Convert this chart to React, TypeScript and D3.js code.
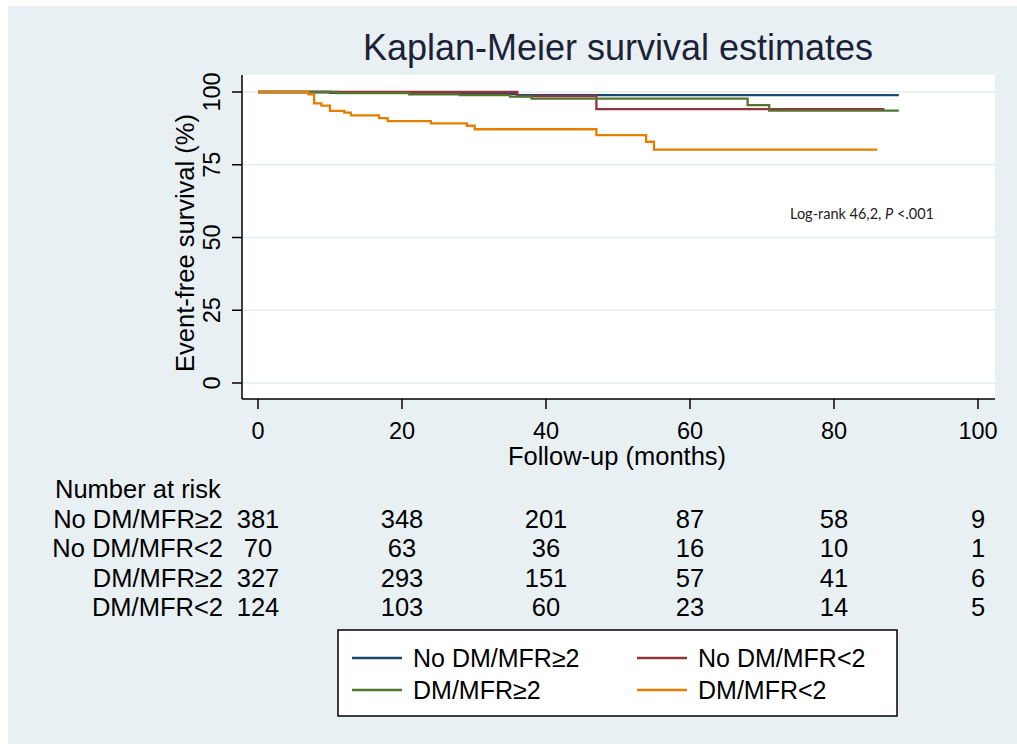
import React from "react";
import * as d3 from "d3";

const seriesNames = ["No DM/MFR≥2", "No DM/MFR<2", "DM/MFR≥2", "DM/MFR<2"];
const seriesColors = ["#1a476f", "#90353b", "#55752f", "#e37e00"];

const blueTimes = [0, 10, 25, 36, 89];
const blueSurv = [100, 99.7, 99.4, 98.9, 98.9];
const redTimes = [0, 36, 47, 87];
const redSurv = [100, 98.6, 94.1, 94.1];
const greenTimes = [0, 11, 21, 28, 35, 38, 68, 71, 89];
const greenSurv = [100, 99.6, 99.2, 98.9, 98.4, 97.7, 95.5, 93.6, 93.6];
const orangeTimes = [0, 7, 7.8, 8.8, 10, 12, 12.9, 16.8, 18, 24, 29, 30.1, 47, 53.9, 55, 86];
const orangeSurv = [100, 99.2, 96.1, 95.3, 93.5, 92.9, 92, 91, 90, 89.2, 88.4, 87.2, 85.2, 82.9, 80.2, 80.2];

const xTicks = [0, 20, 40, 60, 80, 100];
const yTicks = [0, 25, 50, 75, 100];

const riskLabels = ["No DM/MFR≥2", "No DM/MFR<2", "DM/MFR≥2", "DM/MFR<2"];
const riskNoDmHigh = [381, 348, 201, 87, 58, 9];
const riskNoDmLow = [70, 63, 36, 16, 10, 1];
const riskDmHigh = [327, 293, 151, 57, 41, 6];
const riskDmLow = [124, 103, 60, 23, 14, 5];

const FONT = "'Liberation Sans', Arial, sans-serif";

export default function App() {
  const x = d3.scaleLinear().domain([0, 100]).range([258, 978]);
  const y = d3.scaleLinear().domain([0, 100]).range([383, 92]);
  const plotL = 242, plotR = 995, plotT = 75, plotB = 399;

  const series = [
    { t: blueTimes, s: blueSurv },
    { t: redTimes, s: redSurv },
    { t: greenTimes, s: greenSurv },
    { t: orangeTimes, s: orangeSurv },
  ];
  const line = d3
    .line<[number, number]>()
    .x((d) => x(d[0]))
    .y((d) => y(d[1]))
    .curve(d3.curveStepAfter);

  const risks = [riskNoDmHigh, riskNoDmLow, riskDmHigh, riskDmLow];
  const rowY = [519, 548, 578, 607];

  const legendItems = [
    { i: 0, lx: 352, ly: 658 },
    { i: 1, lx: 637, ly: 658 },
    { i: 2, lx: 352, ly: 690 },
    { i: 3, lx: 637, ly: 690 },
  ];

  return (
    <svg
      width={1017}
      height={744}
      style={{ position: "absolute", left: 0, top: 0 }}
      fontFamily={FONT}
    >
      <rect x={0} y={0} width={1017} height={744} fill="#ffffff" />
      <rect x={8} y={6} width={1009} height={738} fill="#e8f0f3" />
      <rect x={plotL} y={plotT} width={plotR - plotL} height={plotB - plotT} fill="#ffffff" />

      {yTicks.map((v) => (
        <line key={"g" + v} x1={plotL} x2={plotR} y1={y(v)} y2={y(v)} stroke="#e3edf1" strokeWidth={1.5} />
      ))}

      {series.map((sr, i) => (
        <path
          key={"s" + i}
          d={line(sr.t.map((t, j) => [t, sr.s[j]] as [number, number])) || ""}
          fill="none"
          stroke={seriesColors[i]}
          strokeWidth={2.3}
        />
      ))}

      <line x1={plotL} x2={plotL} y1={plotT} y2={plotB} stroke="#000" strokeWidth={1.5} />
      <line x1={plotL} x2={plotR} y1={plotB} y2={plotB} stroke="#000" strokeWidth={1.5} />

      {yTicks.map((v) => (
        <g key={"yt" + v}>
          <line x1={plotL - 10} x2={plotL} y1={y(v)} y2={y(v)} stroke="#000" strokeWidth={1.5} />
          <text
            transform={`translate(${220},${y(v)}) rotate(-90)`}
            textAnchor="middle"
            fontSize={23.5}
            fill="#000"
          >
            {v}
          </text>
        </g>
      ))}
      {xTicks.map((v) => (
        <g key={"xt" + v}>
          <line x1={x(v)} x2={x(v)} y1={plotB} y2={plotB + 10} stroke="#000" strokeWidth={1.5} />
          <text x={x(v)} y={439} textAnchor="middle" fontSize={23.5} fill="#000">
            {v}
          </text>
        </g>
      ))}

      <text x={617} y={465} textAnchor="middle" fontSize={25.5} fill="#000">
        Follow-up (months)
      </text>
      <text
        transform={`translate(${194},${243}) rotate(-90)`}
        textAnchor="middle"
        fontSize={25.5}
        fill="#000"
      >
        Event-free survival (%)
      </text>

      <text x={618} y={60} textAnchor="middle" fontSize={36} fill="#1c2238">
        Kaplan-Meier survival estimates
      </text>

      <text x={862} y={219} textAnchor="middle" fontSize={14.5} fontFamily="Lato, 'Open Sans', sans-serif" fill="#222">
        Log-rank 46,2, <tspan fontStyle="italic">P</tspan> &lt;.001
      </text>

      <text x={55} y={498} fontSize={25.5} fill="#000">
        Number at risk
      </text>
      {riskLabels.map((lab, r) => (
        <g key={"r" + r}>
          <text x={223} y={rowY[r] + 9} textAnchor="end" fontSize={25.5} fill="#000">
            {lab}
          </text>
          {risks[r].map((n, k) => (
            <text key={k} x={x(xTicks[k])} y={rowY[r] + 9} textAnchor="middle" fontSize={25.5} fill="#000">
              {n}
            </text>
          ))}
        </g>
      ))}

      <rect x={338} y={630} width={559} height={86} fill="#ffffff" stroke="#000" strokeWidth={1.5} />
      {legendItems.map((it) => (
        <g key={"l" + it.i}>
          <line x1={it.lx} x2={it.lx + 50} y1={it.ly} y2={it.ly} stroke={seriesColors[it.i]} strokeWidth={2.3} />
          <text x={it.lx + 61} y={it.ly + 9} fontSize={25} fill="#000">
            {seriesNames[it.i]}
          </text>
        </g>
      ))}
    </svg>
  );
}
